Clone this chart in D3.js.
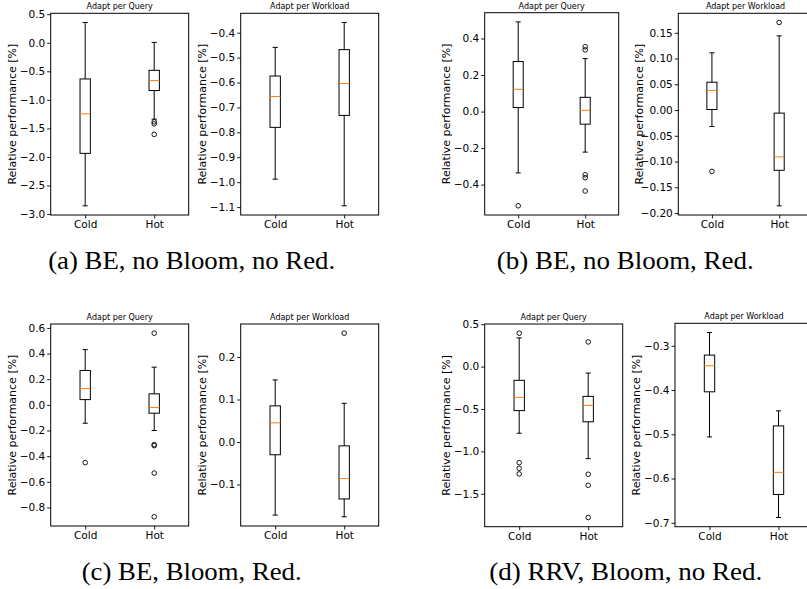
<!DOCTYPE html>
<html>
<head>
<meta charset="utf-8">
<script src="https://cdn.jsdelivr.net/npm/d3@7"></script>
<style>
  body { margin: 0; background: #fff; }
  svg { display: block; }
</style>
</head>
<body>
<div id="chart"></div>
<script>
// categories and titles
const categories = ["Cold", "Hot"];
const panelTitles = ["Adapt per Query", "Adapt per Workload"];
const captions = ["(a) BE, no Bloom, no Red.", "(b) BE, no Bloom, Red.", "(c) BE, Bloom, Red.", "(d) RRV, Bloom, no Red."];

// box stats per category: [whisker low, q1, median, q3, whisker high]
const aQueryBoxes = [[-2.856, -1.937, -1.245, -0.634, 0.355], [-1.338, -0.837, -0.663, -0.483, 0.006]];
const aQueryFliers = [[], [-1.385, -1.42, -1.605]];
const aQueryTicks = [0.5, 0.0, -0.5, -1.0, -1.5, -2.0, -2.5, -3.0];

const aWorkloadBoxes = [[-0.988, -0.78, -0.656, -0.574, -0.459], [-1.095, -0.732, -0.604, -0.468, -0.359]];
const aWorkloadFliers = [[], []];
const aWorkloadTicks = [-0.4, -0.5, -0.6, -0.7, -0.8, -0.9, -1.0, -1.1];

const bQueryBoxes = [[-0.336, 0.022, 0.122, 0.274, 0.491], [-0.222, -0.069, 0.007, 0.078, 0.29]];
const bQueryFliers = [[-0.516], [0.355, 0.338, -0.346, -0.362, -0.435]];
const bQueryTicks = [0.4, 0.2, 0.0, -0.2, -0.4];

const bWorkloadBoxes = [[-0.032, 0.001, 0.038, 0.054, 0.111], [-0.186, -0.117, -0.091, -0.006, 0.144]];
const bWorkloadFliers = [[-0.119], [0.170]];
const bWorkloadTicks = [0.15, 0.10, 0.05, 0.00, -0.05, -0.10, -0.15, -0.20];

const cQueryBoxes = [[-0.143, 0.041, 0.127, 0.268, 0.431], [-0.2, -0.065, -0.021, 0.086, 0.294]];
const cQueryFliers = [[-0.45], [0.559, -0.31, -0.318, -0.532, -0.873]];
const cQueryTicks = [0.6, 0.4, 0.2, 0.0, -0.2, -0.4, -0.6, -0.8];

const cWorkloadBoxes = [[-0.172, -0.030, 0.045, 0.085, 0.146], [-0.176, -0.134, -0.086, -0.009, 0.091]];
const cWorkloadFliers = [[], [0.256]];
const cWorkloadTicks = [0.2, 0.1, 0.0, -0.1];

const dQueryBoxes = [[-0.786, -0.519, -0.363, -0.162, 0.339], [-1.086, -0.651, -0.458, -0.351, -0.076]];
const dQueryFliers = [[0.394, -1.133, -1.2, -1.266], [0.291, -1.27, -1.40, -1.78]];
const dQueryTicks = [0.5, 0.0, -0.5, -1.0, -1.5];

const dWorkloadBoxes = [[-0.506, -0.404, -0.345, -0.321, -0.27], [-0.688, -0.636, -0.586, -0.481, -0.447]];
const dWorkloadFliers = [[], []];
const dWorkloadTicks = [-0.3, -0.4, -0.5, -0.6, -0.7];

const W = 807, H = 589;

const svg = d3.select('#chart')
  .append('svg')
  .attr('width', W)
  .attr('height', H);

// frame placement of each panel
const panels = [
  { boxes: aQueryBoxes, fliers: aQueryFliers, ticks: aQueryTicks, fmt: ".1f", title: 0, x: 50.7, y: 13.3, w: 138, h: 201.7 },
  { boxes: aWorkloadBoxes, fliers: aWorkloadFliers, ticks: aWorkloadTicks, fmt: ".1f", title: 1, x: 240.7, y: 13.3, w: 138, h: 201.7 },
  { boxes: bQueryBoxes, fliers: bQueryFliers, ticks: bQueryTicks, fmt: ".1f", title: 0, x: 484.7, y: 12.7, w: 134, h: 202.3 },
  { boxes: bWorkloadBoxes, fliers: bWorkloadFliers, ticks: bWorkloadTicks, fmt: ".2f", title: 1, x: 678.3, y: 13.3, w: 134.5, h: 201.7 },
  { boxes: cQueryBoxes, fliers: cQueryFliers, ticks: cQueryTicks, fmt: ".1f", title: 0, x: 50.7, y: 324, w: 138, h: 202 },
  { boxes: cWorkloadBoxes, fliers: cWorkloadFliers, ticks: cWorkloadTicks, fmt: ".1f", title: 1, x: 240.7, y: 324, w: 138, h: 202 },
  { boxes: dQueryBoxes, fliers: dQueryFliers, ticks: dQueryTicks, fmt: ".1f", title: 0, x: 484.7, y: 324, w: 138, h: 202.7 },
  { boxes: dWorkloadBoxes, fliers: dWorkloadFliers, ticks: dWorkloadTicks, fmt: ".1f", title: 1, x: 675, y: 323.3, w: 138, h: 203.4 }
];

function drawPanel(p) {
  const g = svg.append('g').attr('transform', `translate(${p.x},${p.y})`);

  const all = p.boxes.flat().concat(p.fliers.flat());
  const lo = d3.min(all), hi = d3.max(all);
  const pad = (hi - lo) * 0.05;

  const y = d3.scaleLinear().domain([lo - pad, hi + pad]).range([p.h, 0]);
  const x = d3.scaleLinear().domain([0.5, 2.5]).range([0, p.w]);
  const bw = x(1.15) - x(1);

  const yAxis = g.append('g')
    .call(d3.axisLeft(y).tickValues(p.ticks).tickSize(3.5).tickPadding(2).tickFormat(d3.format(p.fmt)));
  const xAxis = g.append('g')
    .attr('transform', `translate(0,${p.h})`)
    .call(d3.axisBottom(x).tickValues([1, 2]).tickSize(3.5).tickPadding(2).tickFormat(d => categories[d - 1]));
  [yAxis, xAxis].forEach(a => {
    a.select('.domain').remove();
    a.selectAll('text').attr('font-family', 'DejaVu Sans').attr('font-size', 10.5).attr('fill', '#000');
    a.selectAll('line').attr('stroke', '#000').attr('stroke-width', 0.9);
  });

  g.append('text')
    .attr('transform', `translate(-39,${p.h / 2}) rotate(-90)`)
    .attr('text-anchor', 'middle')
    .attr('dy', '0.35em')
    .attr('font-family', 'DejaVu Sans')
    .attr('font-size', 11)
    .text('Relative performance [%]');

  g.append('text')
    .attr('x', p.w / 2)
    .attr('y', -4)
    .attr('text-anchor', 'middle')
    .attr('font-family', 'DejaVu Sans')
    .attr('font-size', 8)
    .text(panelTitles[p.title]);

  const box = g.selectAll('g.box')
    .data(p.boxes)
    .enter()
    .append('g')
    .attr('class', 'box');

  // whiskers
  box.append('line')
    .attr('x1', (d, i) => x(i + 1)).attr('x2', (d, i) => x(i + 1))
    .attr('y1', d => y(d[0])).attr('y2', d => y(d[1]))
    .attr('stroke', '#000');
  box.append('line')
    .attr('x1', (d, i) => x(i + 1)).attr('x2', (d, i) => x(i + 1))
    .attr('y1', d => y(d[3])).attr('y2', d => y(d[4]))
    .attr('stroke', '#000');
  // caps
  box.append('line')
    .attr('x1', (d, i) => x(i + 1) - bw / 4).attr('x2', (d, i) => x(i + 1) + bw / 4)
    .attr('y1', d => y(d[0])).attr('y2', d => y(d[0]))
    .attr('stroke', '#000');
  box.append('line')
    .attr('x1', (d, i) => x(i + 1) - bw / 4).attr('x2', (d, i) => x(i + 1) + bw / 4)
    .attr('y1', d => y(d[4])).attr('y2', d => y(d[4]))
    .attr('stroke', '#000');
  // box
  box.append('rect')
    .attr('x', (d, i) => x(i + 1) - bw / 2)
    .attr('y', d => y(d[3]))
    .attr('width', bw)
    .attr('height', d => y(d[1]) - y(d[3]))
    .attr('fill', 'none')
    .attr('stroke', '#000');
  // median
  box.append('line')
    .attr('x1', (d, i) => x(i + 1) - bw / 2).attr('x2', (d, i) => x(i + 1) + bw / 2)
    .attr('y1', d => y(d[2])).attr('y2', d => y(d[2]))
    .attr('stroke', '#ff7f0e');

  // outliers
  p.fliers.forEach((f, i) => {
    g.selectAll(null)
      .data(f)
      .enter()
      .append('circle')
      .attr('cx', x(i + 1))
      .attr('cy', d => y(d))
      .attr('r', 2.3)
      .attr('fill', 'none')
      .attr('stroke', '#000')
      .attr('stroke-width', 0.9);
  });

  g.append('rect')
    .attr('width', p.w)
    .attr('height', p.h)
    .attr('fill', 'none')
    .attr('stroke', '#000')
    .attr('stroke-width', 1);
}

panels.forEach(drawPanel);

// sub-figure captions: centre x, baseline y, width
const capPos = [[191.7, 269, 287], [625.3, 269, 257], [191.7, 580, 220], [625.8, 580, 273]];
captions.forEach((c, i) => {
  svg.append('text')
    .attr('x', capPos[i][0])
    .attr('y', capPos[i][1])
    .attr('text-anchor', 'middle')
    .attr('font-family', 'Liberation Serif')
    .attr('font-size', 25)
    .attr('textLength', capPos[i][2])
    .attr('lengthAdjust', 'spacingAndGlyphs')
    .text(c);
});
</script>
</body>
</html>
